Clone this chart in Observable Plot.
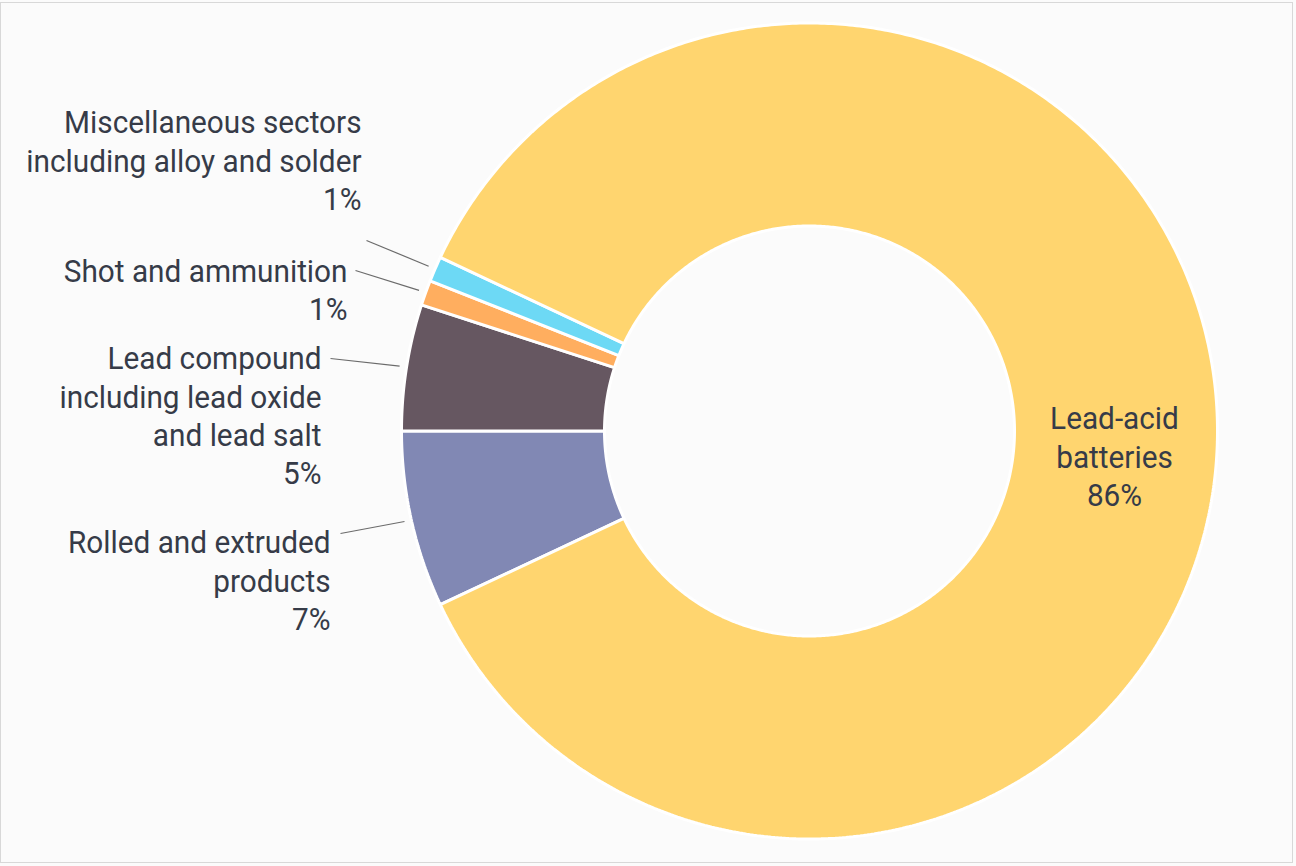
<!DOCTYPE html>
<html>
<head>
<meta charset="utf-8">
<script src="https://cdn.jsdelivr.net/npm/d3@7"></script>
<script src="https://cdn.jsdelivr.net/npm/@observablehq/plot@0.6"></script>
<style>
  html, body { margin: 0; padding: 0; background: #fbfbfb; }
  #wrap { position: relative; width: 1296px; height: 866px; overflow: hidden; }
  #frame { position: absolute; left: 0px; top: 2px; width: 1293px; height: 861px;
           border: 1px solid #d8d8d8; pointer-events: none; box-sizing: border-box; }
  #chart svg { display: block; }
</style>
</head>
<body>
<div id="wrap">
  <div id="chart"></div>
  <div id="frame"></div>
</div>
<script>
// ---- data ----
const categories = [
  "Rolled and extruded products",
  "Lead compound including lead oxide and lead salt",
  "Shot and ammunition",
  "Miscellaneous sectors including alloy and solder",
  "Lead-acid batteries"
];
const shares = [7, 5, 1, 1, 86];
const labelTexts = [
  "Rolled and extruded\nproducts\n7%",
  "Lead compound\nincluding lead oxide\nand lead salt\n5%",
  "Shot and ammunition\n1%",
  "Miscellaneous sectors\nincluding alloy and solder\n1%",
  "Lead-acid\nbatteries\n86%"
];
const colors = ["#8188b4", "#665761", "#ffae5f", "#6dd9f5", "#ffd56f"];

// ---- layout ----
const W = 1296, H = 866;
const cx = 809, cy = 430.5, R = 408, r0 = 205, Rlead = 415;
const startAngle = -115.2 * Math.PI / 180;
const textSquash = 0.93; // horizontal condensation of label glyphs
// label anchors (right edge x, block centre y) and leader-line outer ends
const labelLayout = [
  {x: 330, y: 579, lx: 340, ly: 533, anchor: "end", leader: true},
  {x: 321, y: 414, lx: 330, ly: 358, anchor: "end", leader: true},
  {x: 347, y: 288, lx: 355, ly: 270, anchor: "end", leader: true},
  {x: 361, y: 159, lx: 366, ly: 240, anchor: "end", leader: true},
  {x: 1114, y: 455, anchor: "middle", leader: false}
];

const pie = d3.pie().value(d => d.share).sort(null)
  .startAngle(startAngle).endAngle(startAngle + 2 * Math.PI);
const table = categories.map((c, i) => ({category: c, share: shares[i], label: labelTexts[i], i}));
const arcs = pie(table);

const pt = (a, rad) => [cx + rad * Math.sin(a), cy - rad * Math.cos(a)];

// polygon outline of each slice from its pie angles
const polys = [];
for (const a of arcs) {
  const n = Math.max(4, Math.ceil((a.endAngle - a.startAngle) / (Math.PI / 360)));
  const ring = [];
  for (let k = 0; k <= n; k++) {
    const t = a.startAngle + (a.endAngle - a.startAngle) * k / n;
    ring.push(pt(t, R));
  }
  for (let k = n; k >= 0; k--) {
    const t = a.startAngle + (a.endAngle - a.startAngle) * k / n;
    ring.push(pt(t, r0));
  }
  ring.push(ring[0]);
  for (const [x, y] of ring) polys.push({category: a.data.category, x, y});
}

const leaders = arcs.filter((a, i) => labelLayout[i].leader).map(a => {
  const mid = (a.startAngle + a.endAngle) / 2;
  const [x1, y1] = pt(mid, Rlead);
  const L = labelLayout[a.data.i];
  return {x1, y1, x2: L.lx, y2: L.ly};
});

const labels = table.map((d, i) => ({...d, x: labelLayout[i].x, y: labelLayout[i].y, anchor: labelLayout[i].anchor}));

const font = "Roboto, 'DejaVu Sans', sans-serif";

const chart = Plot.plot({
  width: W, height: H, margin: 0,
  x: {domain: [0, W], range: [0, W], axis: null},
  y: {domain: [0, H], range: [0, H], axis: null},
  color: {domain: categories, range: colors},
  style: {background: "#fbfbfb", fontFamily: font},
  marks: [
    Plot.line(polys, {x: "x", y: "y", z: "category", fill: "category",
      stroke: "#ffffff", strokeWidth: 3, strokeLinejoin: "miter", curve: "linear"}),
    Plot.link(leaders, {x1: "x1", y1: "y1", x2: "x2", y2: "y2", stroke: "#6b6b6b", strokeWidth: 1.2}),
    Plot.text(labels.filter(d => d.anchor === "end"), {x: "x", y: "y", text: "label",
      textAnchor: "end", lineAnchor: "middle", lineHeight: 1.2, fontSize: 32, fill: "#363b48"}),
    Plot.text(labels.filter(d => d.anchor === "middle"), {x: "x", y: "y", text: "label",
      textAnchor: "middle", lineAnchor: "middle", lineHeight: 1.2, fontSize: 32, fill: "#363b48"})
  ]
});
// condense label glyphs horizontally around their anchor points
chart.querySelectorAll("g[aria-label='text'] text").forEach(t => {
  const tr = t.getAttribute("transform") || "";
  t.setAttribute("transform", tr + ` scale(${textSquash},1)`);
});
document.getElementById("chart").appendChild(chart);
</script>
</body>
</html>
